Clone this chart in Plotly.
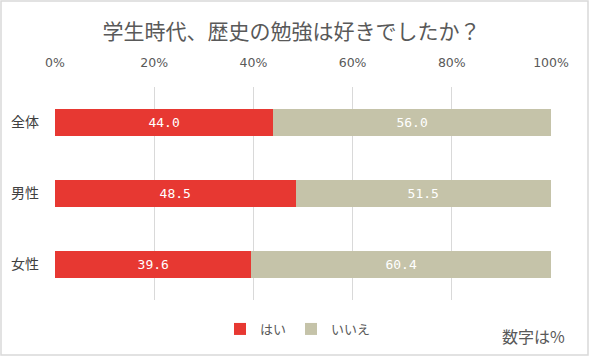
import plotly.graph_objects as go

categories = ["全体", "男性", "女性"]
yes_vals = [44.0, 48.5, 39.6]
no_vals = [56.0, 51.5, 60.4]
tick_vals = [0, 20, 40, 60, 80, 100]
tick_text = ["0%", "20%", "40%", "60%", "80%", "100%"]

W, H = 589, 356
L, R, T, B = 55, 38, 87, 56
pw, ph = W - L - R, H - T - B

font_jp = "Noto Sans CJK JP"
grey_text = "#595959"

fig = go.Figure()
fig.add_trace(go.Bar(
    y=categories, x=yes_vals, name="はい", orientation="h",
    marker=dict(color="#E73832", line=dict(width=0)),
    text=[f"{v:.1f}" for v in yes_vals], textposition="inside",
    insidetextanchor="middle",
    textfont=dict(color="white", size=13, family="DejaVu Sans Mono"),
))
fig.add_trace(go.Bar(
    y=categories, x=no_vals, name="いいえ", orientation="h",
    marker=dict(color="#C5C3A9", line=dict(width=0)),
    text=[f"{v:.1f}" for v in no_vals], textposition="inside",
    insidetextanchor="middle",
    textfont=dict(color="white", size=13, family="DejaVu Sans Mono"),
))

fig.update_layout(
    width=W, height=H,
    margin=dict(l=L, r=R, t=T, b=B, autoexpand=False),
    barmode="stack", bargap=0.62,
    paper_bgcolor="white", plot_bgcolor="white",
    font=dict(family=font_jp, color=grey_text),
    title=dict(text="学生時代、歴史の勉強は好きでしたか？", x=291.5 / W, xanchor="center",
               xref="container", yref="container",
               y=1 - 32 / H, yanchor="middle",
               font=dict(size=21, color=grey_text, family=font_jp)),
    xaxis=dict(side="top", range=[0, 100], tickvals=tick_vals, ticktext=tick_text,
               showgrid=True, gridcolor="#D9D9D9", gridwidth=1.3,
               zeroline=False, showline=False, ticks="", automargin=False,
               ticklabelstandoff=17,
               tickfont=dict(size=12.5, color=grey_text, family="DejaVu Sans")),
    yaxis=dict(autorange="reversed", showgrid=False, zeroline=False, showline=False,
               ticks="", ticklabelstandoff=15, automargin=False,
               tickfont=dict(size=14, color="#404040", family=font_jp)),
    legend=dict(orientation="h", x=(220 - L) / pw, xanchor="left", y=-(329 - T - ph) / ph,
                yanchor="middle",
                font=dict(size=13, color=grey_text, family=font_jp),
                itemwidth=30, traceorder="normal", tracegroupgap=0),
    uniformtext=dict(minsize=8, mode="show"),
)

fig.add_annotation(text="数字は%", xref="paper", yref="paper",
                   x=(567 - L) / pw, y=(H - B - 336) / ph,
                   xanchor="right", yanchor="middle", showarrow=False,
                   font=dict(size=16, color=grey_text, family=font_jp))

# outer border
fig.add_shape(type="rect", xref="paper", yref="paper",
              x0=(1 - L) / pw, x1=(W - 1 - L) / pw,
              y0=(H - B - (H - 1)) / ph, y1=(H - B - 1) / ph,
              line=dict(color="#D9D9D9", width=1.5), fillcolor="rgba(0,0,0,0)")

fig.write_html("out.html", config={"displayModeBar": False},
               post_script="document.body.style.margin='0';document.body.style.overflow='hidden';")
